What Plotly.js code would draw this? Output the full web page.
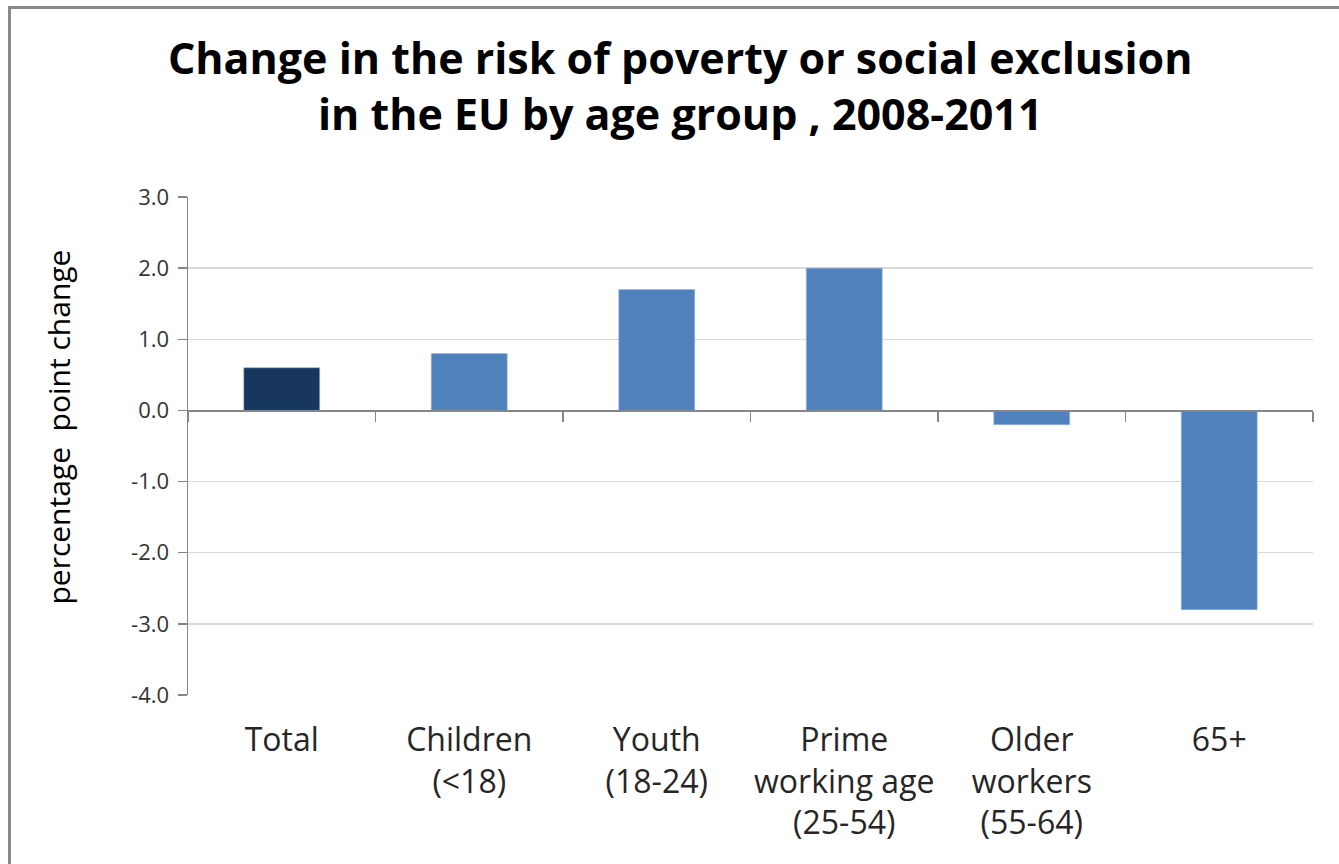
<!DOCTYPE html>
<html>
<head>
<meta charset="utf-8">
<script src="https://cdn.plot.ly/plotly-3.0.1.min.js"></script>
<style>
  html, body { margin: 0; padding: 0; background: #fff; }
  #chart { width: 1339px; height: 864px; }
  #frame { position: absolute; left: 8px; top: 6px; width: 1400px; height: 900px;
           border-left: 3px solid #888; border-top: 3px solid #888; pointer-events: none; }
</style>
</head>
<body>
<div id="chart"></div>
<div id="frame"></div>
<script>
// Data
const categories = ["Total", "Children<br>(<18)", "Youth<br>(18-24)", "Prime<br>working age<br>(25-54)", "Older<br>workers<br>(55-64)", "65+"];
const values = [0.6, 0.8, 1.7, 2.0, -0.2, -2.8];
const barColors = ["#17375E", "#4F81BD", "#4F81BD", "#4F81BD", "#4F81BD", "#4F81BD"];
const yTickVals = [-4, -3, -2, -1, 0, 1, 2, 3];
const yTickText = ["-4.0", "-3.0", "-2.0", "-1.0", "0.0", "1.0", "2.0", "3.0"];
const yMin = -4, yMax = 3;
const titleText = "Change in the risk of poverty or social exclusion<br>in the EU by age group , 2008-2011";
const yTitleText = "percentage  point change";

const font = "'Open Sans', Lato, sans-serif";

const traces = [
  {
    type: "bar",
    x: categories,
    y: values,
    marker: { color: barColors, line: { color: "#9BB7D9", width: 0.6 } },
    hoverinfo: "x+y",
    showlegend: false
  },
  {
    // carries the category axis drawn along the zero line
    type: "scatter",
    mode: "none",
    x: categories,
    y: values,
    xaxis: "x2",
    hoverinfo: "skip",
    showlegend: false
  }
];

const layout = {
  width: 1339,
  height: 864,
  margin: { l: 188, r: 26, t: 197, b: 169 },
  paper_bgcolor: "#ffffff",
  plot_bgcolor: "#ffffff",
  font: { family: font, color: "#262626" },
  bargap: 0.595,
  title: {
    text: titleText,
    font: { family: font, size: 43, color: "#000000", weight: "bold" },
    x: 0.508,
    xref: "container",
    xanchor: "center",
    y: 0.914,
    yref: "container",
    yanchor: "middle"
  },
  xaxis: {
    type: "category",
    categoryarray: categories,
    range: [-0.5, categories.length - 0.5],
    showline: false,
    showgrid: false,
    zeroline: false,
    ticks: "",
    tickfont: { family: font, size: 32, color: "#262626" },
    ticklabelstandoff: 23,
    fixedrange: true
  },
  xaxis2: {
    type: "category",
    overlaying: "x",
    categoryarray: categories,
    range: [-0.5, categories.length - 0.5],
    anchor: "free",
    position: (0 - yMin) / (yMax - yMin),
    side: "bottom",
    showline: true,
    linecolor: "#868686",
    linewidth: 1.5,
    ticks: "outside",
    tickson: "boundaries",
    ticklen: 10,
    tickcolor: "#868686",
    tickwidth: 1.5,
    showticklabels: false,
    showgrid: false,
    zeroline: false,
    fixedrange: true
  },
  yaxis: {
    range: [yMin, yMax],
    tickvals: yTickVals,
    ticktext: yTickText,
    showline: true,
    linecolor: "#868686",
    linewidth: 1.5,
    ticks: "outside",
    ticklen: 9,
    tickcolor: "#868686",
    tickwidth: 1.5,
    showgrid: true,
    gridcolor: "#D9D9D9",
    gridwidth: 1.5,
    zeroline: false,
    tickfont: { family: font, size: 22, color: "#333333" },
    ticklabelstandoff: 4,
    fixedrange: true
  },
  annotations: [
    {
      text: yTitleText,
      textangle: -90,
      xref: "paper",
      yref: "paper",
      x: 0,
      y: 0.537,
      xanchor: "center",
      yanchor: "middle",
      xshift: -129,
      showarrow: false,
      font: { family: font, size: 30, color: "#000000" }
    }
  ]
};

Plotly.newPlot("chart", traces, layout, { displayModeBar: false, staticPlot: true });
</script>
</body>
</html>
